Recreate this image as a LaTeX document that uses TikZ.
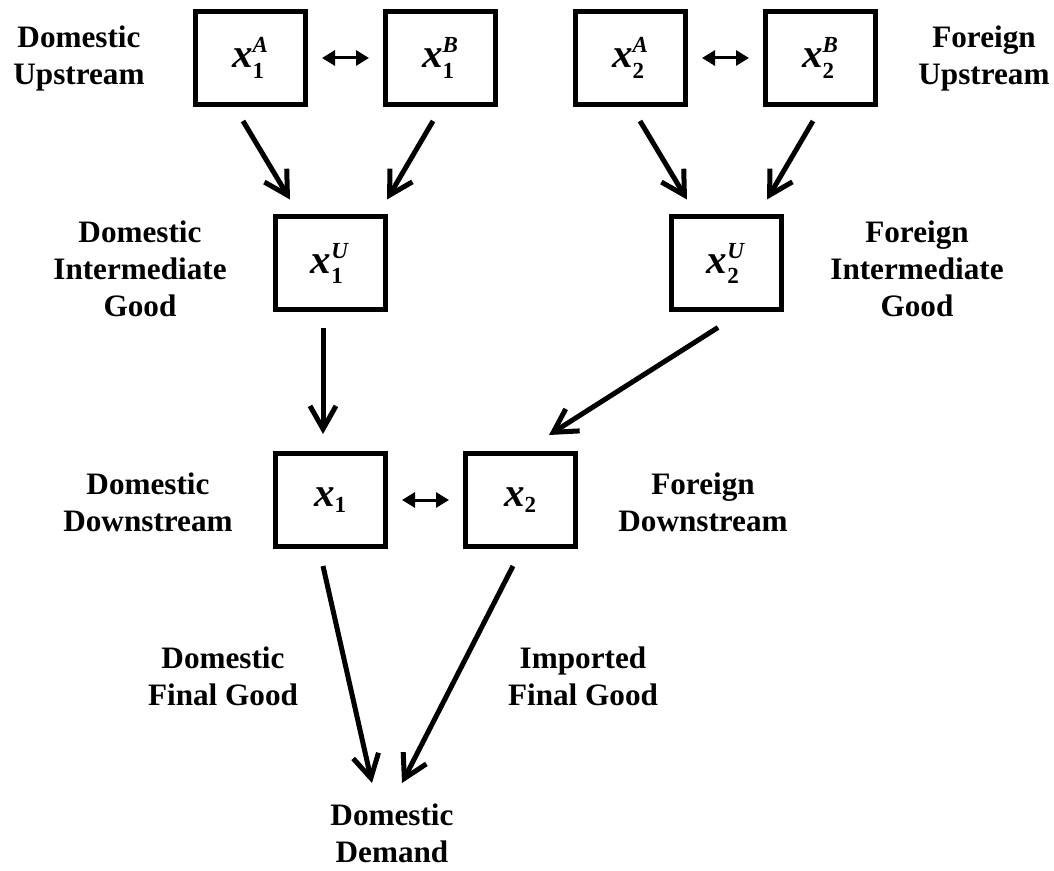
\documentclass[tikz,border=0pt]{standalone}
\usepackage{amsmath}
\usepackage{fontspec}
\setmainfont{Liberation Serif}
\usetikzlibrary{arrows.meta}
\DeclareMathSizes{20.5}{20.5}{11.5}{9}
\newcommand{\xv}[2]{$\textbf{\textit{x}}_{\textbf{#1}}^{\textbf{\textit{#2}}}$}
\newcommand{\xw}[1]{$\textbf{\textit{x}}_{\textbf{#1}}$}
\tikzset{
bx/.style={draw,line width=2.5pt,minimum width=55pt,minimum height=46.5pt,inner sep=0pt,font=\fontsize{20.5}{22}\selectfont},
lb/.style={align=center,inner sep=0pt,font=\fontsize{15.6}{18.5}\selectfont\bfseries},
fl/.style={line width=2.5pt,-{Straight Barb[length=11.5pt,width=13pt]}},
sw/.style={line width=1.5pt,{Triangle[length=6.5pt,width=7.5pt]}-{Triangle[length=6.5pt,width=7.5pt]},shorten <=7pt,shorten >=7pt}
}
\begin{document}
\begin{tikzpicture}[x=0.5pt,y=-0.5pt]
\pgfmathsetmacro{\kxstep}{190}
\pgfmathsetmacro{\ktop}{58}
\pgfmathsetmacro{\kmid}{263.5}
\pgfmathsetmacro{\kbot}{500}
\useasboundingbox(0,0)rectangle(1054,871);
\foreach \nm/\kx/\ks/\kp in {xoA/0/1/A,xoB/1/1/B,xtA/2/2/A,xtB/3/2/B}{\node[bx](\nm)at(250.5+\kx*\kxstep,\ktop){\xv{\ks}{\kp}};}
\node[bx](xoU)at(330.5,\kmid){\xv{1}{U}};
\node[bx](xtU)at(726.5,\kmid){\xv{2}{U}};
\node[bx](xo)at(330.5,\kbot){\xw{1}};
\node[bx](xt)at(520.5,\kbot){\xw{2}};
\node[lb](lDU)at(79,59){Domestic\\Upstream};
\node[lb](lFU)at(984,59){Foreign\\Upstream};
\node[lb](lDI)at(140,269){Domestic\\Intermediate\\Good};
\node[lb](lFI)at(917,269){Foreign\\Intermediate\\Good};
\node[lb](lDD)at(148,502){Domestic\\Downstream};
\node[lb](lFD)at(703,502){Foreign\\Downstream};
\node[lb](lDF)at(223,676){Domestic\\Final Good};
\node[lb](lIF)at(583,676){Imported\\Final Good};
\node[lb](dem)at(392,833){Domestic\\Demand};
\draw[sw](xoA)--(xoB);
\draw[sw](xtA)--(xtB);
\draw[sw](xo)--(xt);
\draw[fl]([shift={(-7.5,14)}]xoA.south)--([shift={(-40.5,-15)}]xoU.north);
\draw[fl]([shift={(-7.5,14)}]xoB.south)--([shift={(56.5,-15)}]xoU.north);
\draw[fl]([shift={(9.5,14)}]xtA.south)--([shift={(-39.5,-15)}]xtU.north);
\draw[fl]([shift={(-7.5,14)}]xtB.south)--([shift={(40.5,-15)}]xtU.north);
\draw[fl]([shift={(-7.5,16)}]xoU.south)--([shift={(-7.5,-17)}]xo.north);
\draw[fl]([shift={(-8.5,15)}]xtU.south)--([shift={(28.5,-16)}]xt.north);
\draw[fl]([shift={(-7.5,17)}]xo.south)--([shift={(-20,-50)}]dem.center);
\draw[fl]([shift={(-7.5,17)}]xt.south)--([shift={(10,-50)}]dem.center);
\end{tikzpicture}
\end{document}
